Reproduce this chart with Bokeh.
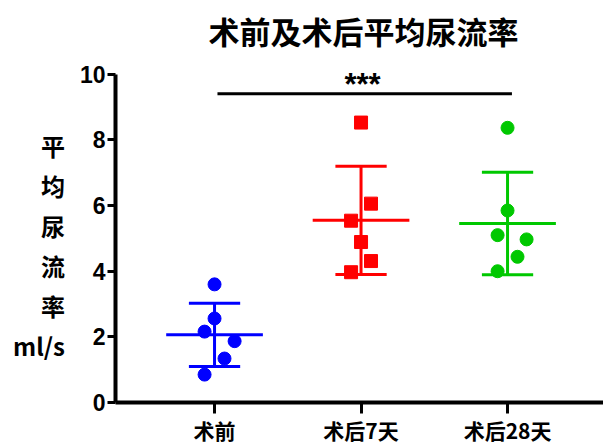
import numpy as np
from bokeh.plotting import figure
from bokeh.models import FixedTicker, Label, Range1d, ColumnDataSource
from bokeh.embed import file_html
from bokeh.resources import INLINE

# ---------------- data ----------------
categories = ["术前", "术后7天", "术后28天"]
preop = [3.60, 2.56, 2.16, 1.87, 1.34, 0.85]
post7 = [8.53, 6.06, 5.54, 4.89, 4.31, 3.97]
post28 = [8.37, 5.85, 5.10, 4.97, 4.44, 4.00]
jitter_preop = [0, 0, -0.068, 0.137, 0.068, -0.068]
jitter_post7 = [0, 0.068, -0.068, 0, 0.068, -0.068]
jitter_post28 = [0, 0, -0.068, 0.13, 0.068, -0.068]
y_ticks = [0, 2, 4, 6, 8, 10]
title_text = "术前及术后平均尿流率"
y_label_parts = ["平", "均", "尿", "流", "率", "ml/s"]
sig_text = "***"
sig_level = 9.41

groups = [preop, post7, post28]
jitters = [jitter_preop, jitter_post7, jitter_post28]
colors = ["#0000FF", "#FF0000", "#00C800"]
markers = ["circle", "square", "circle"]
positions = [1, 2, 3]

# ---------------- figure ----------------
FRAME_L = 115          # px, left edge of plot area (y axis)
AXIS_TOP = 74          # px, where y = 10 sits
FRAME_TOP = 8          # px, frame extends above the axis top so the title fits inside
PX_X = 146.5
PX_Y = 32.9
X0, X1 = 0.324, 3.655
Y0 = 0.0
Y_AXIS_END = 10.0
Y1 = Y_AXIS_END + (AXIS_TOP - FRAME_TOP) / PX_Y

def sx(px):
    return X0 + (px - FRAME_L) / PX_X

def sy(py):
    return Y_AXIS_END - (py - AXIS_TOP) / PX_Y

p = figure(width=603, height=447, x_range=Range1d(X0, X1), y_range=Range1d(Y0, Y1),
           output_backend="svg", toolbar_location=None,
           min_border_left=FRAME_L, min_border_right=0, min_border_top=FRAME_TOP,
           min_border_bottom=44)
p.outline_line_color = None
p.xgrid.visible = False
p.ygrid.visible = False
p.background_fill_color = "white"

# axes
p.yaxis.ticker = FixedTicker(ticks=y_ticks)
p.yaxis.bounds = (0, Y_AXIS_END)
p.yaxis.axis_line_width = 4
p.yaxis.axis_line_color = "black"
p.yaxis.major_tick_line_width = 3
p.yaxis.major_tick_in = 0
p.yaxis.major_tick_out = 8
p.yaxis.minor_tick_line_color = None
p.yaxis.major_label_text_font = "Liberation Sans"
p.yaxis.major_label_text_font_style = "bold"
p.yaxis.major_label_text_font_size = "23px"
p.yaxis.major_label_text_color = "black"
p.yaxis.major_label_standoff = 2
p.yaxis.axis_label = "\n\n" + "\n".join(y_label_parts)
p.yaxis.axis_label_orientation = "horizontal"
p.yaxis.axis_label_text_font = "Noto Sans CJK SC"
p.yaxis.axis_label_text_font_style = "bold"
p.yaxis.axis_label_text_font_size = "24px"
p.yaxis.axis_label_text_line_height = 1.14
p.yaxis.axis_label_text_align = "center"
p.yaxis.axis_label_text_color = "black"
p.yaxis.axis_label_standoff = 12

p.xaxis.ticker = FixedTicker(ticks=positions)
p.xaxis.major_label_overrides = {pos: c for pos, c in zip(positions, categories)}
p.xaxis.axis_line_width = 4
p.xaxis.axis_line_color = "black"
p.xaxis.major_tick_line_width = 3
p.xaxis.major_tick_in = 0
p.xaxis.major_tick_out = 11
p.xaxis.minor_tick_line_color = None
p.xaxis.major_label_text_font = "Noto Sans CJK SC"
p.xaxis.major_label_text_font_style = "bold"
p.xaxis.major_label_text_font_size = "21px"
p.xaxis.major_label_text_color = "black"
p.xaxis.major_label_standoff = 1

# points + mean/SD
MEAN_HALF = 0.33
CAP_HALF = 0.175
for pos, vals, jit, col, mk in zip(positions, groups, jitters, colors, markers):
    arr = np.array(vals)
    m = arr.mean()
    sd = arr.std(ddof=1)
    p.segment(x0=[pos], y0=[m - sd], x1=[pos], y1=[m + sd], line_color=col, line_width=3)
    p.segment(x0=[pos - CAP_HALF] * 2, y0=[m - sd, m + sd], x1=[pos + CAP_HALF] * 2,
              y1=[m - sd, m + sd], line_color=col, line_width=3)
    p.segment(x0=[pos - MEAN_HALF], y0=[m], x1=[pos + MEAN_HALF], y1=[m], line_color=col, line_width=3)
    src = ColumnDataSource(dict(x=[pos + j for j in jit], y=vals))
    p.scatter(x="x", y="y", source=src, marker=mk, size=13, fill_color=col, line_color=col)

# significance bar
p.segment(x0=[positions[0] + 0.02], y0=[sig_level], x1=[positions[2] + 0.03], y1=[sig_level],
          line_color="black", line_width=3)
p.add_layout(Label(x=(positions[0] + positions[2]) / 2 + 0.01, y=sy(84.5), text=sig_text,
                   text_font="Liberation Sans", text_font_style="bold", text_font_size="31px",
                   text_align="center", text_baseline="alphabetic", text_color="black"))

# title (inside the extended frame)
p.add_layout(Label(x=sx(363), y=sy(30), text=title_text, text_font="Noto Sans CJK SC",
                   text_font_style="bold", text_font_size="31px", text_align="center",
                   text_baseline="middle", text_color="black"))

open("out.html", "w").write(file_html(p, INLINE))
